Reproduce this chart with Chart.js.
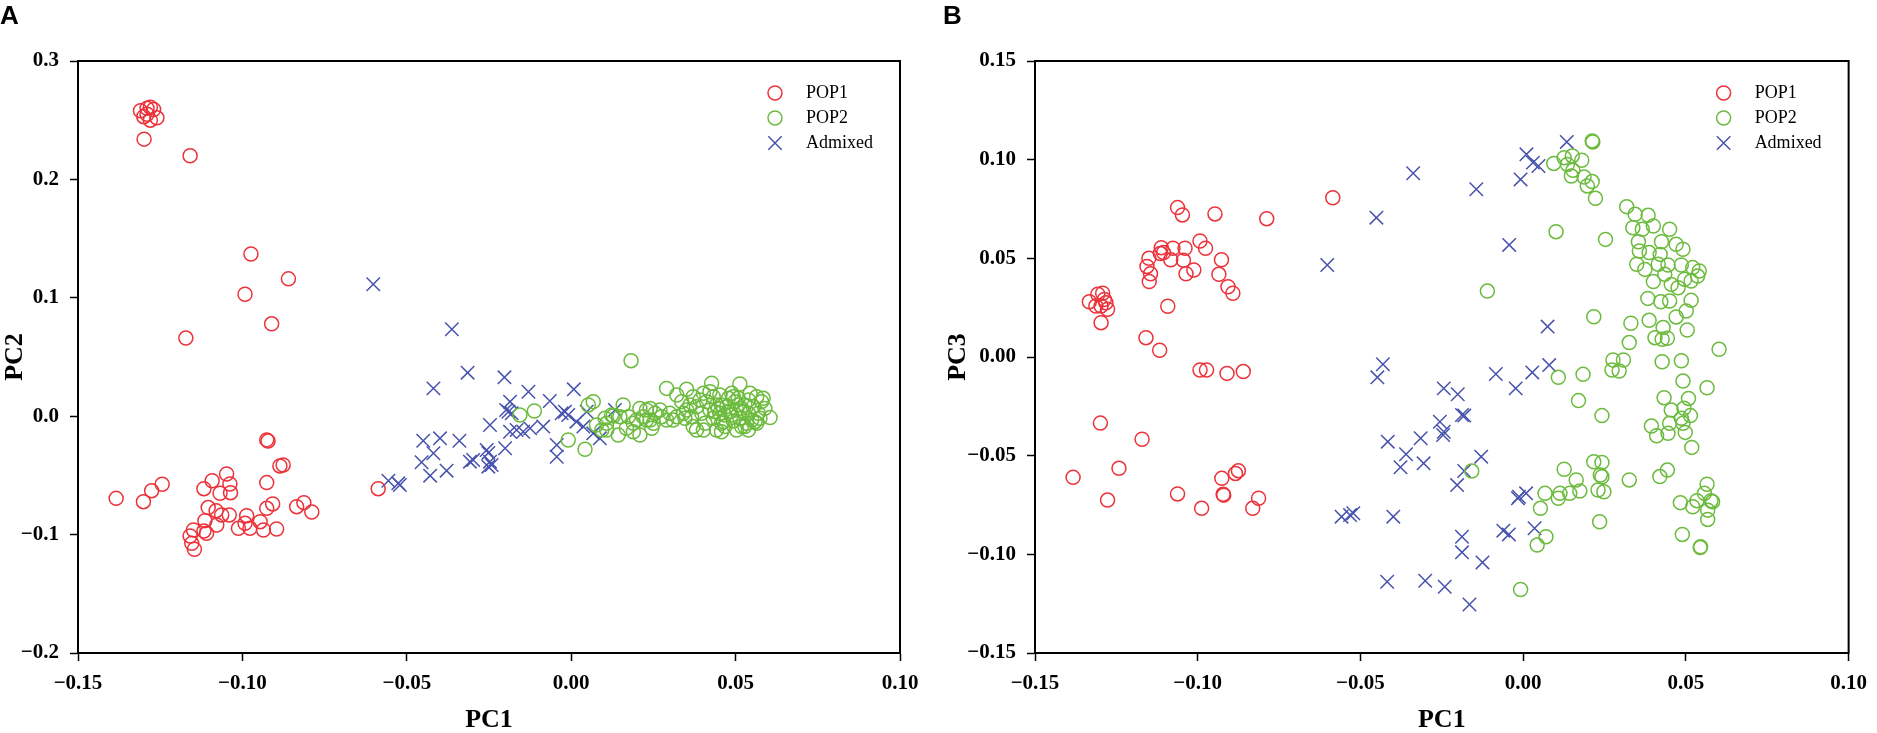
<!DOCTYPE html>
<html>
<head>
<meta charset="utf-8">
<script src="https://cdn.jsdelivr.net/npm/chart.js@4.4.1/dist/chart.umd.min.js"></script>
<style>
  body { margin: 0; background: #fff; width: 1877px; height: 733px; position: relative; overflow: hidden; }
  canvas { position: absolute; top: 0; }
  .tag { position: absolute; top: 2px; font: bold 26px "Liberation Sans", Arial, sans-serif; line-height: 1; z-index: 2; }
</style>
</head>
<body>
<div class="tag" style="left:0">A</div>
<div class="tag" style="left:943px">B</div>
<canvas id="chartA" width="943" height="733" style="left:0"></canvas>
<canvas id="chartB" width="934" height="733" style="left:943px"></canvas>
<script>
// series names
const groups = ['POP1', 'POP2', 'Admixed'];

// panel A: PC1 vs PC2  [PC1, PC2]
const pop1_A = [
  [-0.131,0.258],[-0.129,0.260],[-0.128,0.261],[-0.130,0.253],[-0.128,0.250],[-0.126,0.252],[-0.127,0.259],[-0.129,0.255],
  [-0.1299,0.234],[-0.1159,0.220],[-0.0974,0.137],[-0.0860,0.116],[-0.0992,0.103],[-0.0911,0.078],[-0.1172,0.066],
  [-0.0926,-0.020],[-0.0922,-0.021],
  [-0.1384,-0.0694],[-0.1301,-0.0722],[-0.1276,-0.0629],[-0.1244,-0.0575],[-0.1117,-0.0612],[-0.1092,-0.0545],
  [-0.1048,-0.0488],[-0.1038,-0.0573],[-0.1068,-0.0651],[-0.1036,-0.0646],[-0.0926,-0.0561],[-0.0886,-0.0420],
  [-0.0876,-0.0412],[-0.1104,-0.0772],[-0.1080,-0.0798],[-0.1063,-0.0834],[-0.1040,-0.0834],[-0.1078,-0.0919],
  [-0.1114,-0.0882],[-0.1109,-0.0989],[-0.1117,-0.0970],[-0.1149,-0.0961],[-0.1159,-0.1012],[-0.1154,-0.1074],
  [-0.1146,-0.1124],[-0.1012,-0.0947],[-0.0992,-0.0905],[-0.0987,-0.0840],[-0.0977,-0.0947],[-0.0946,-0.0891],
  [-0.0936,-0.0961],[-0.0896,-0.0953],[-0.0926,-0.0778],[-0.0908,-0.0741],[-0.0835,-0.0764],[-0.0813,-0.0730],
  [-0.0789,-0.0809],[-0.0587,-0.0612]
];
const pop2_A = [
  [0.0182,0.0469],[0.0290,0.0235],[0.0351,0.0227],[0.0427,0.0278],[0.0513,0.0272],
  [0.0321,0.0179],[0.0371,0.0165],[0.0402,0.0193],[0.0452,0.0179],[0.0488,0.0193],[0.0544,0.0193],[0.0564,0.0165],[0.0584,0.0151],
  [0.0605,-0.0012],[0.0067,0.0123],[0.0052,0.0095],[0.0158,0.0095],[-0.0112,0.0044],[-0.0156,0.0010],
  [0.0103,-0.0018],[0.0128,0.0002],[0.0148,-0.0004],[0.0209,0.0066],[0.0240,0.0066],[0.0270,0.0052],[0.0199,-0.0032],
  [0.0229,-0.0032],[0.0250,-0.0060],[0.0290,-0.0032],[0.0321,-0.0004],[0.0341,0.0024],
  [0.0077,-0.0074],[0.0108,-0.0117],[0.0143,-0.0159],[0.0168,-0.0102],[0.0189,-0.0131],[0.0209,-0.0159],[0.0245,-0.0102],
  [-0.0009,-0.0201],[0.0042,-0.0280],
  [0.0381,-0.0117],[0.0457,-0.0131],[0.0528,-0.0088],[0.0564,-0.0060],
  [0.0336,0.0123],[0.0351,0.0052],[0.0366,-0.0004],[0.0381,0.0080],[0.0397,0.0024],[0.0412,0.0123],[0.0422,0.0052],
  [0.0432,-0.0018],[0.0442,0.0095],[0.0452,0.0024],[0.0463,-0.0046],[0.0473,0.0080],[0.0488,0.0010],[0.0498,0.0123],
  [0.0503,0.0052],[0.0513,-0.0018],[0.0518,-0.0088],[0.0528,0.0095],[0.0539,0.0024],[0.0549,-0.0032],[0.0554,0.0080],
  [0.0569,0.0024],[0.0579,0.0123],[0.0589,0.0066],[0.0493,0.0165],[0.0432,0.0165],[0.0407,-0.0060],[0.0371,-0.0088],
  [0.0457,0.0095],[0.0478,0.0151],[0.0508,0.0151],[0.0539,0.0137],[0.0559,-0.0046],[0.0574,-0.0018],[0.0422,0.0207],
  [0.0392,0.0137],[0.0361,0.0095],[0.0346,-0.0018],[0.0310,-0.0032],[0.0300,0.0024],[0.0275,-0.0004],[0.0255,0.0024],
  [0.0229,0.0052],[0.0219,-0.0004],[0.0240,-0.0032],[0.0123,0.0010],[0.0108,-0.0060],[0.0093,-0.0117],[0.0174,-0.0004],
  [0.0189,-0.0060],[0.0539,-0.0117],[0.0503,-0.0117],[0.0468,-0.0088],[0.0442,-0.0117],[0.0402,-0.0117],
  [0.0447,0.0066],[0.0483,0.0038],[0.0518,0.0066],[0.0467,0.0010],[0.0523,0.0038],[0.0493,-0.0040],[0.0437,0.0038],
  [0.0508,0.0095],[0.0457,-0.0060],[0.0533,-0.0060]
];
const admixed_A = [
  [-0.0602,0.1114],[-0.0363,0.0734],[-0.0315,0.0368],[-0.0419,0.0235],[-0.0203,0.0328],[-0.0130,0.0207],[0.0008,0.0227],
  [-0.0065,0.0128],[-0.0186,0.0123],[-0.0191,0.0038],[-0.0181,0.0024],[-0.0198,0.0052],[-0.0019,0.0038],[-0.0009,0.0010],
  [-0.0029,0.0024],[0.0047,0.0038],[0.0133,0.0052],[-0.0247,-0.0074],[-0.0085,-0.0088],[-0.0125,-0.0102],[-0.0146,-0.0131],
  [-0.0166,-0.0117],[-0.0186,-0.0131],[0.0016,-0.0046],[0.0037,-0.0088],[0.0067,-0.0145],[0.0087,-0.0187],[-0.0044,-0.0243],
  [-0.0044,-0.0342],[-0.0450,-0.0207],[-0.0399,-0.0187],[-0.0340,-0.0207],[-0.0419,-0.0313],[-0.0455,-0.0389],
  [-0.0429,-0.0502],[-0.0379,-0.0460],[-0.0308,-0.0384],[-0.0298,-0.0370],[-0.0257,-0.0285],[-0.0252,-0.0310],
  [-0.0201,-0.0271],[-0.0247,-0.0384],[-0.0242,-0.0412],[-0.0252,-0.0426],[-0.0556,-0.0545],[-0.0526,-0.0567],[-0.0521,-0.0581]
];

// panel B: PC1 vs PC3  [PC1, PC3]
const pop1_B = [
  [-0.1062,0.0757],[-0.1047,0.0720],[-0.0947,0.0725],[-0.0788,0.0701],[-0.0585,0.0807],[-0.0993,0.0588],[-0.0976,0.0551],
  [-0.1039,0.0551],[-0.1076,0.0551],[-0.1112,0.0554],[-0.1105,0.0529],[-0.1115,0.0524],[-0.1083,0.0493],[-0.1044,0.0490],
  [-0.1150,0.0500],[-0.1156,0.0459],[-0.1145,0.0422],[-0.1149,0.0382],[-0.1036,0.0422],[-0.1012,0.0441],[-0.0927,0.0493],
  [-0.0935,0.0419],[-0.0907,0.0356],[-0.0892,0.0323],[-0.1092,0.0257],
  [-0.1333,0.0280],[-0.1307,0.0318],[-0.1292,0.0323],[-0.1282,0.0275],[-0.1297,0.0258],[-0.1277,0.0242],[-0.1313,0.0258],
  [-0.1287,0.0292],[-0.1297,0.0174],[-0.1159,0.0098],[-0.1117,0.0034],
  [-0.0993,-0.0066],[-0.0973,-0.0066],[-0.0910,-0.0083],[-0.0860,-0.0074],[-0.1299,-0.0335],[-0.1171,-0.0417],
  [-0.1383,-0.0610],[-0.1242,-0.0564],[-0.1277,-0.0725],[-0.1062,-0.0694],[-0.0988,-0.0767],[-0.0926,-0.0615],
  [-0.0922,-0.0696],[-0.0920,-0.0700],[-0.0884,-0.0590],[-0.0875,-0.0576],[-0.0813,-0.0716],[-0.0831,-0.0767]
];
const pop2_B = [
  [0.0212,0.1095],[0.0214,0.1090],[0.0094,0.0981],[0.0126,0.1010],[0.0151,0.1019],[0.0180,0.0997],[0.0136,0.0976],
  [0.0153,0.0946],[0.0148,0.0917],[0.0187,0.0912],[0.0212,0.0889],[0.0197,0.0867],[0.0222,0.0804],[0.0318,0.0762],
  [0.0344,0.0723],[0.0384,0.0718],[0.0337,0.0655],[0.0366,0.0647],[0.0400,0.0664],[0.0450,0.0647],[0.0354,0.0584],
  [0.0425,0.0584],[0.0470,0.0571],[0.0491,0.0546],[0.0387,0.0529],[0.0357,0.0537],[0.0421,0.0520],[0.0349,0.0470],
  [0.0374,0.0444],[0.0415,0.0470],[0.0445,0.0466],[0.0486,0.0466],[0.0521,0.0453],[0.0541,0.0436],[0.0536,0.0410],
  [0.0435,0.0419],[0.0496,0.0394],[0.0516,0.0385],[0.0400,0.0382],[0.0455,0.0368],[0.0476,0.0351],[0.0383,0.0297],
  [0.0423,0.0280],[0.0450,0.0284],[0.0516,0.0287],[0.0501,0.0233],[0.0470,0.0203],[0.0387,0.0186],[0.0430,0.0149],
  [0.0504,0.0137],[0.0405,0.0098],[0.0427,0.0090],[0.0443,0.0095],[0.0101,0.0635],[0.0253,0.0596],[-0.0110,0.0334],
  [0.0217,0.0204],[0.0331,0.0171],[0.0326,0.0073],[0.0602,0.0039],
  [0.0276,-0.0015],[0.0308,-0.0015],[0.0273,-0.0066],[0.0295,-0.0071],[0.0427,-0.0024],[0.0486,-0.0019],
  [0.0108,-0.0103],[0.0184,-0.0088],[0.0170,-0.0221],[0.0242,-0.0297],[0.0491,-0.0122],[0.0565,-0.0156],[0.0433,-0.0206],
  [0.0508,-0.0210],[0.0455,-0.0269],[0.0494,-0.0260],[0.0514,-0.0297],[0.0486,-0.0311],[0.0491,-0.0336],[0.0450,-0.0336],
  [0.0394,-0.0350],[0.0410,-0.0399],[0.0445,-0.0387],[0.0498,-0.0382],[0.0518,-0.0458],
  [-0.0158,-0.0578],[0.0126,-0.0569],[0.0163,-0.0623],[0.0217,-0.0531],[0.0242,-0.0534],[0.0237,-0.0598],[0.0242,-0.0607],
  [0.0230,-0.0674],[0.0248,-0.0683],[0.0174,-0.0679],[0.0143,-0.0691],[0.0113,-0.0691],[0.0108,-0.0716],[0.0067,-0.0691],
  [0.0053,-0.0767],[0.0070,-0.0911],[0.0043,-0.0953],[0.0235,-0.0835],[-0.0008,-0.1178],[0.0326,-0.0623],[0.0420,-0.0606],
  [0.0443,-0.0573],[0.0483,-0.0738],[0.0521,-0.0759],[0.0534,-0.0728],[0.0557,-0.0691],[0.0565,-0.0645],[0.0577,-0.0728],
  [0.0582,-0.0733],[0.0567,-0.0776],[0.0567,-0.0823],[0.0489,-0.0899],[0.0544,-0.0966],[0.0545,-0.0962]
];
const admixed_B = [
  [-0.0338,0.0931],[-0.0451,0.0706],[-0.0602,0.0466],[0.0134,0.1090],[0.0010,0.1027],[0.0030,0.0985],[0.0047,0.0968],
  [-0.0008,0.0900],[-0.0144,0.0850],[-0.0043,0.0568],[0.0075,0.0154],
  [-0.0431,-0.0037],[-0.0448,-0.0103],[-0.0244,-0.0159],[-0.0256,-0.0328],[-0.0246,-0.0395],[-0.0244,-0.0379],
  [-0.0416,-0.0429],[-0.0315,-0.0412],[-0.0360,-0.0493],[-0.0377,-0.0559],[-0.0306,-0.0539],[-0.0558,-0.0809],
  [-0.0532,-0.0801],[-0.0522,-0.0792],[-0.0399,-0.0809],[-0.0418,-0.1139],[-0.0301,-0.1134],[-0.0241,-0.1164],
  [0.0080,-0.0041],[0.0028,-0.0078],[-0.0084,-0.0086],[-0.0023,-0.0159],[-0.0201,-0.0189],[-0.0188,-0.0294],
  [-0.0181,-0.0297],[-0.0129,-0.0505],[-0.0181,-0.0578],[-0.0203,-0.0649],[-0.0013,-0.0708],[0.0009,-0.0691],
  [-0.0016,-0.0716],[-0.0188,-0.0911],[-0.0188,-0.0990],[-0.0125,-0.1041],[-0.0061,-0.0880],[-0.0044,-0.0899],
  [0.0035,-0.0868],[-0.0165,-0.1254]
];

// axis ticks
const pc1Ticks = [-0.15, -0.10, -0.05, 0.00, 0.05, 0.10];
const pc2Ticks = [-0.2, -0.1, 0.0, 0.1, 0.2, 0.3];
const pc3Ticks = [-0.15, -0.10, -0.05, 0.00, 0.05, 0.10, 0.15];

const colors = ['rgb(236,50,58)', 'rgb(108,187,62)', 'rgb(70,82,172)'];

function toXY(arr) { return arr.map(p => ({ x: p[0], y: p[1] })); }

function fmt(v, d) {
  if (Math.abs(v) < 1e-9) v = 0;
  return (v < 0 ? '\u2212' : '') + Math.abs(v).toFixed(d);
}

// draws the closed frame round the plot area
const frame = {
  id: 'frame',
  afterDatasetsDraw(chart) {
    const { ctx, chartArea: a } = chart;
    ctx.save();
    ctx.strokeStyle = '#000';
    ctx.lineWidth = 2;
    ctx.strokeRect(a.left, a.top, a.right - a.left, a.bottom - a.top);
    ctx.restore();
  }
};

// legend inside the top right corner, no box
const innerLegend = {
  id: 'innerLegend',
  afterDraw(chart) {
    const { ctx, chartArea: a } = chart;
    chart.data.datasets.forEach((ds, i) => {
      const x = a.right - 125, y = a.top + 32 + i * 25;
      ctx.save();
      ctx.strokeStyle = ds.borderColor;
      ctx.lineWidth = 1.5;
      ctx.beginPath();
      if (ds.pointStyle === 'crossRot') {
        ctx.moveTo(x - 6.7, y - 6.7); ctx.lineTo(x + 6.7, y + 6.7);
        ctx.moveTo(x - 6.7, y + 6.7); ctx.lineTo(x + 6.7, y - 6.7);
      } else {
        ctx.arc(x, y, 7, 0, Math.PI * 2);
      }
      ctx.stroke();
      ctx.fillStyle = '#000';
      ctx.font = '18px "Liberation Serif", "Times New Roman", serif';
      ctx.textBaseline = 'middle';
      ctx.fillText(ds.label, a.right - 94, y);
      ctx.restore();
    });
  }
};

// yWidth: room left of the plot area for tick labels and the axis title
function makeChart(id, sets, yTicks, yDigits, yTitle, yWidth, rightPad) {
  const tickFont = { family: '"Liberation Serif", "Times New Roman", serif', size: 21, weight: 'bold' };
  const titleFont = { family: '"Liberation Serif", "Times New Roman", serif', size: 26, weight: 'bold', lineHeight: 1 };
  return new Chart(document.getElementById(id), {
    type: 'scatter',
    data: {
      datasets: sets.map((s, i) => ({
        label: groups[i],
        data: toXY(s),
        pointStyle: i === 2 ? 'crossRot' : 'circle',
        pointRadius: i === 2 ? 9.5 : 7,
        pointHoverRadius: i === 2 ? 9.5 : 7,
        borderWidth: 1.5,
        borderColor: colors[i],
        backgroundColor: 'rgba(0,0,0,0)'
      }))
    },
    options: {
      responsive: false,
      animation: false,
      layout: { padding: { top: 61, right: rightPad, left: 0, bottom: 0 } },
      plugins: { legend: { display: false }, tooltip: { enabled: false } },
      scales: {
        x: {
          type: 'linear',
          min: pc1Ticks[0], max: pc1Ticks[pc1Ticks.length - 1],
          afterBuildTicks: s => { s.ticks = pc1Ticks.map(v => ({ value: v })); },
          afterFit: s => { s.height = 80; },
          ticks: { color: '#000', font: tickFont, padding: 10, maxRotation: 0, callback: v => fmt(v, 2) },
          grid: { drawOnChartArea: false, tickLength: 8, tickColor: '#000', tickWidth: 1.5 },
          border: { color: '#000', width: 2 },
          title: { display: true, text: 'PC1', color: '#000', font: titleFont, padding: 0 }
        },
        y: {
          type: 'linear',
          min: yTicks[0], max: yTicks[yTicks.length - 1],
          afterBuildTicks: s => { s.ticks = yTicks.map(v => ({ value: v })); },
          afterFit: s => { s.width = yWidth; },
          ticks: { color: '#000', font: tickFont, padding: 11, callback: v => fmt(v, yDigits) },
          grid: { drawOnChartArea: false, tickLength: 8, tickColor: '#000', tickWidth: 1.5 },
          border: { color: '#000', width: 2 },
          title: { display: true, text: yTitle, color: '#000', font: titleFont, padding: { top: 2, bottom: 0 } }
        }
      }
    },
    plugins: [frame, innerLegend]
  });
}

makeChart('chartA', [pop1_A, pop2_A, admixed_A], pc2Ticks, 1, 'PC2', 78, 43);
makeChart('chartB', [pop1_B, pop2_B, admixed_B], pc3Ticks, 2, 'PC3', 92, 20);
</script>
</body>
</html>
